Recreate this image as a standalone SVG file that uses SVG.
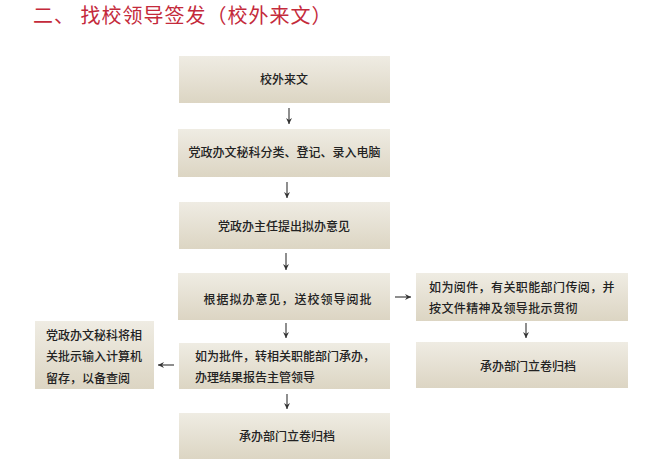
<svg xmlns="http://www.w3.org/2000/svg" width="660" height="471" viewBox="0 0 660 471">
<defs>
<linearGradient id="boxg" x1="0" y1="0" x2="0" y2="1">
<stop offset="0" stop-color="#EFECE3"/>
<stop offset="1" stop-color="#DCD5C3"/>
</linearGradient>
<marker id="ah" markerWidth="8" markerHeight="8" refX="6" refY="4" orient="auto" markerUnits="userSpaceOnUse">
<path d="M0,1 L6,4 L0,7 L2,4 Z" fill="#333"/>
</marker>
<style>
.box{fill:url(#boxg);}
.t{font-family:"Noto Sans CJK SC","Liberation Sans",sans-serif;font-size:12px;fill:#222;font-weight:500;}
.c{text-anchor:middle;}
.title{font-family:"Noto Sans CJK SC","Liberation Sans",sans-serif;font-size:20px;fill:#C42A3B;letter-spacing:1px;}
.ln{stroke:#444;stroke-width:1.2;fill:none;marker-end:url(#ah);}
</style>
</defs>
<rect width="660" height="471" fill="#FFFFFF"/>
<text class="title" x="33" y="23">二、 找校领导签发（校外来文）</text>
<g id="n1"><rect class="box" x="179" y="56" width="211" height="47"/><text class="t c" x="284" y="84">校外来文</text></g>
<g id="n2"><rect class="box" x="178" y="129" width="212" height="48"/><text class="t c" x="284.5" y="157">党政办文秘科分类、登记、录入电脑</text></g>
<g id="n3"><rect class="box" x="179" y="202" width="211" height="47"/><text class="t c" x="284" y="231">党政办主任提出拟办意见</text></g>
<g id="n4"><rect class="box" x="178" y="273" width="212" height="47"/><text class="t c" x="288" y="304" letter-spacing="1">根据拟办意见，送校领导阅批</text></g>
<g id="n5"><rect class="box" x="179" y="343" width="211" height="46"/><text class="t" x="195" y="361">如为批件，转相关职能部门承办，</text><text class="t" x="195" y="382">办理结果报告主管领导</text></g>
<g id="n6"><rect class="box" x="179" y="413" width="211" height="46"/><text class="t c" x="287" y="441">承办部门立卷归档</text></g>
<g id="n7"><rect class="box" x="35" y="321" width="119" height="68"/><text class="t" x="46" y="340">党政办文秘科将相</text><text class="t" x="46" y="361">关批示输入计算机</text><text class="t" x="46" y="383">留存，以备查阅</text></g>
<g id="n8"><rect class="box" x="416" y="273" width="212" height="48"/><text class="t" x="429" y="292" letter-spacing="0.4">如为阅件，有关职能部门传阅，并</text><text class="t" x="429" y="313" letter-spacing="0.4">按文件精神及领导批示贯彻</text></g>
<g id="n9"><rect class="box" x="416" y="342" width="212" height="46"/><text class="t c" x="528" y="371">承办部门立卷归档</text></g>
<g id="connectors">
<line class="ln" x1="289" y1="108" x2="289" y2="124"/>
<line class="ln" x1="287" y1="182" x2="287" y2="198"/>
<line class="ln" x1="286" y1="253" x2="286" y2="270"/>
<line class="ln" x1="286" y1="323" x2="286" y2="338"/>
<line class="ln" x1="287" y1="394" x2="287" y2="409"/>
<line class="ln" x1="526" y1="323" x2="526" y2="338"/>
<line class="ln" x1="395" y1="297" x2="411" y2="297"/>
<line class="ln" x1="174" y1="365" x2="158" y2="365"/>
</g>
</svg>
